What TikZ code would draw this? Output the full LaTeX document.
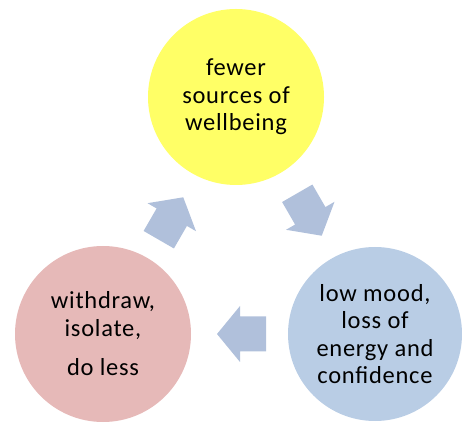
\documentclass[tikz,border=0pt]{standalone}
\usepackage{fontspec}
\setmainfont{Carlito}[LetterSpace=3]
\usetikzlibrary{calc}
\definecolor{yellowc}{HTML}{FFFF66}
\definecolor{pinkc}{HTML}{E6B9B8}
\definecolor{bluec}{HTML}{B9CDE5}
\definecolor{arrowc}{HTML}{B0C0DB}
\tikzset{
  bubble/.style={circle, inner sep=0pt, minimum size=176pt, align=center,
    font=\fontsize{24.5}{27.5}\selectfont, text=black},
  blockarrow/.pic={\fill[arrowc] (-24.5,-17.5) -- (1.5,-17.5) -- (1.5,-28) -- (24.5,0)
    -- (1.5,28) -- (1.5,17.5) -- (-24.5,17.5) -- cycle;}
}
\begin{document}
\begin{tikzpicture}[x=1pt,y=1pt]
\useasboundingbox (0,0) rectangle (462,422);
\node[bubble, fill=yellowc] (top) at (236,325) {fewer\\sources of\\wellbeing};
\node[bubble, fill=pinkc] (left) at (103,88) {withdraw,\\isolate,\\[12pt]do less};
\node[bubble, fill=bluec, minimum size=174pt] (right) at (375,88) {low mood,\\loss of\\energy and\\confidence};
\pic[rotate=180] at ($(left)!0.5!(right)+(2.5,0)$) {blockarrow};
\pic[rotate=60] at ($(left)!0.5!(top)+(1.5,-3)$) {blockarrow};
\pic[rotate=-60] at ($(top)!0.5!(right)+(4,1)$) {blockarrow};
\end{tikzpicture}
\end{document}
